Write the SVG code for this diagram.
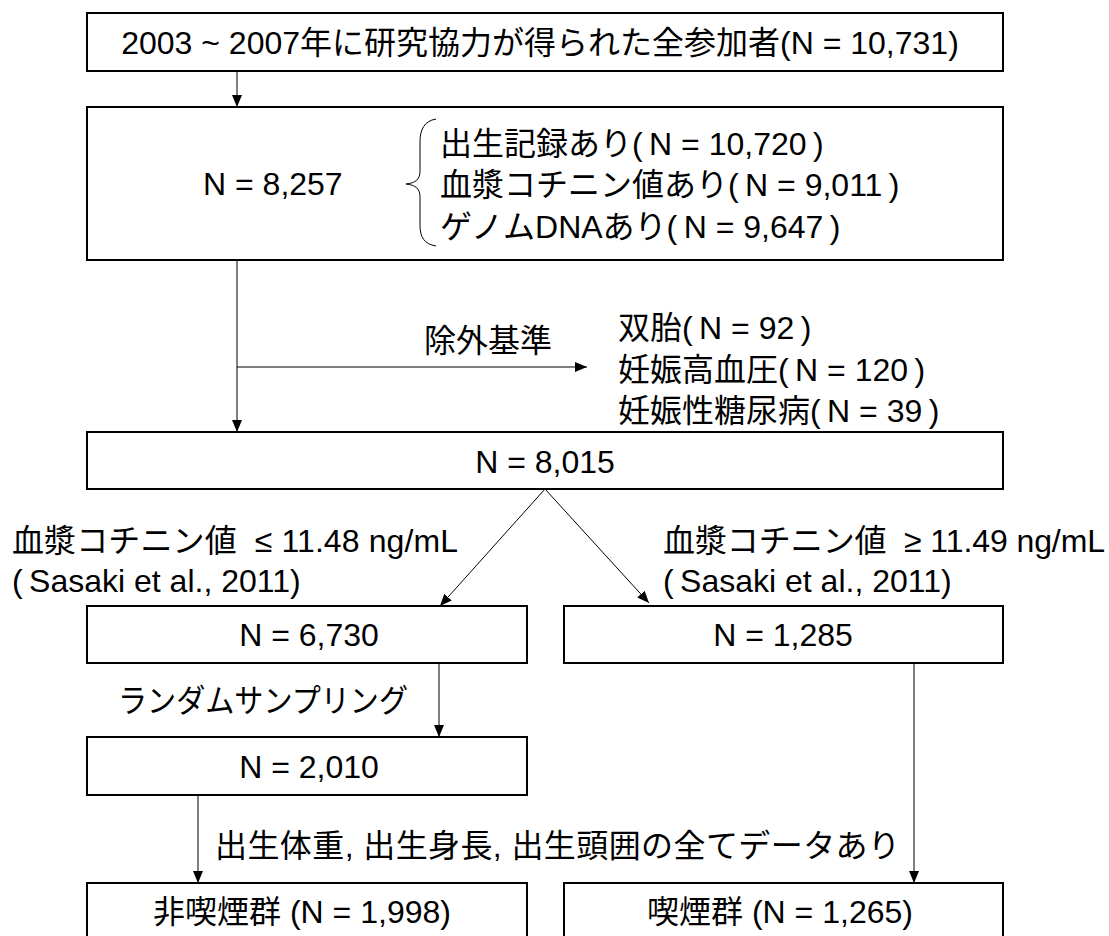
<svg xmlns="http://www.w3.org/2000/svg" width="1109" height="936" viewBox="0 0 1109 936">
<defs>
<marker id="ah" markerUnits="userSpaceOnUse" markerWidth="12" markerHeight="10" refX="12" refY="5" orient="auto">
<path d="M0,0 L12,5 L0,10 z" fill="#000"/>
</marker>
<style>
.box{fill:#fff;stroke:#000;stroke-width:2}
.t{font-family:"Liberation Sans","Noto Sans CJK JP",sans-serif;font-size:32px;fill:#000;white-space:pre}
.m{text-anchor:middle}
.c{fill:none;stroke:#000;stroke-width:1}
</style>
</defs>
<rect width="1109" height="936" fill="#fff"/>
<g id="connectors">
<line class="c" x1="237" y1="71" x2="237" y2="107" marker-end="url(#ah)"/>
<line class="c" x1="237" y1="260" x2="237" y2="432" marker-end="url(#ah)"/>
<line class="c" x1="237" y1="367" x2="587" y2="367" marker-end="url(#ah)"/>
<line class="c" x1="545" y1="489" x2="440" y2="606" marker-end="url(#ah)"/>
<line class="c" x1="545" y1="489" x2="649" y2="603" marker-end="url(#ah)"/>
<line class="c" x1="439" y1="663" x2="439" y2="737" marker-end="url(#ah)"/>
<line class="c" x1="198" y1="795" x2="198" y2="883" marker-end="url(#ah)"/>
<line class="c" x1="914" y1="663" x2="914" y2="883" marker-end="url(#ah)"/>
</g>
<g id="n1">
<rect class="box" x="87" y="13" width="916" height="58"/>
<text class="t m" x="540" y="54">2003 ~ 2007年に研究協力が得られた全参加者(N = 10,731)</text>
</g>
<g id="n2">
<rect class="box" x="87" y="107" width="916" height="153"/>
<text class="t" x="203" y="195">N = 8,257</text>
<path class="c" d="M436,119 C424,121 420,130 420,142 L420,171 C420,179 416,183 406,184 C416,185 420,189 420,197 L420,225 C420,237 424,244 436,246"/>
<text class="t" x="440" y="155">出生記録あり(&#8201;N = 10,720&#8201;)</text>
<text class="t" x="440" y="196">血漿コチニン値あり(&#8201;N = 9,011&#8201;)</text>
<text class="t" x="440" y="238">ゲノムDNAあり(&#8201;N = 9,647&#8201;)</text>
</g>
<g id="exclusion">
<text class="t" x="424" y="352">除外基準</text>
<text class="t" x="618" y="339">双胎(&#8201;N = 92&#8201;)</text>
<text class="t" x="618" y="381">妊娠高血圧(&#8201;N = 120&#8201;)</text>
<text class="t" x="618" y="422">妊娠性糖尿病(&#8201;N = 39&#8201;)</text>
</g>
<g id="n3">
<rect class="box" x="87" y="432" width="916" height="57"/>
<text class="t m" x="545" y="473">N = 8,015</text>
</g>
<g id="labels">
<text class="t" x="12" y="552" textLength="446" lengthAdjust="spacing">血漿コチニン値  ≤ 11.48 ng/mL</text>
<text class="t" x="12" y="592">(&#8201;Sasaki et al., 2011)</text>
<text class="t" x="663" y="552" textLength="442" lengthAdjust="spacing">血漿コチニン値  ≥ 11.49 ng/mL</text>
<text class="t" x="663" y="592">(&#8201;Sasaki et al., 2011)</text>
<text class="t" x="118" y="712" textLength="290" lengthAdjust="spacingAndGlyphs">ランダムサンプリング</text>
<text class="t" x="215" y="857" textLength="685" lengthAdjust="spacing">出生体重, 出生身長, 出生頭囲の全てデータあり</text>
</g>
<g id="n4">
<rect class="box" x="87" y="606" width="440" height="57"/>
<text class="t m" x="309" y="646">N = 6,730</text>
</g>
<g id="n5">
<rect class="box" x="564" y="606" width="439" height="57"/>
<text class="t m" x="783" y="646">N = 1,285</text>
</g>
<g id="n6">
<rect class="box" x="87" y="737" width="440" height="58"/>
<text class="t m" x="309" y="778">N = 2,010</text>
</g>
<g id="n7">
<rect class="box" x="87" y="883" width="440" height="70"/>
<text class="t m" x="302" y="923">非喫煙群 (N = 1,998)</text>
</g>
<g id="n8">
<rect class="box" x="564" y="883" width="439" height="70"/>
<text class="t m" x="780" y="923">喫煙群 (N = 1,265)</text>
</g>
</svg>
